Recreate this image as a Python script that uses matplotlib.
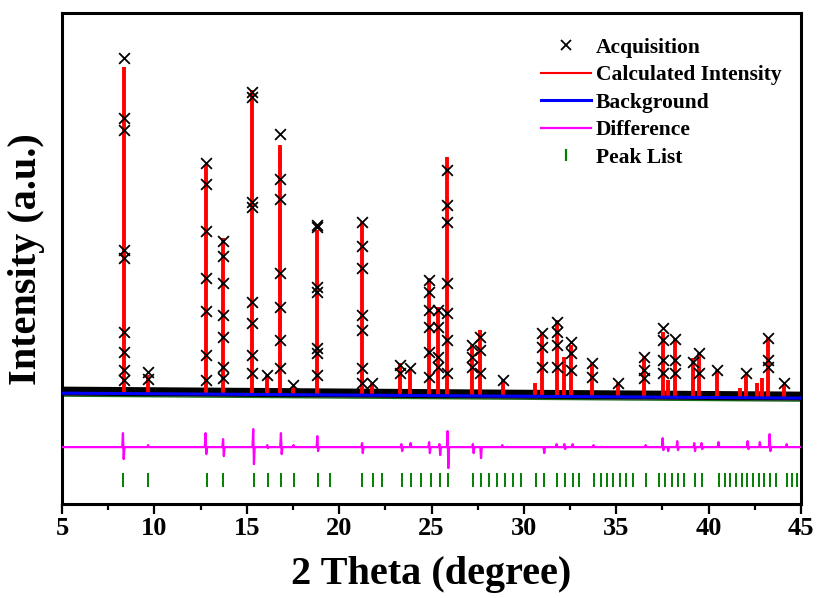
import numpy as np
import matplotlib
matplotlib.use('Agg')
import matplotlib.pyplot as plt
from matplotlib.lines import Line2D

plt.rcParams['font.family'] = ['Liberation Serif', 'DejaVu Serif']
plt.rcParams['font.weight'] = 'bold'

# calculated peaks: 2theta position, intensity at top
calc_pos = [8.37, 9.67, 12.79, 13.70, 15.30, 16.08, 16.80, 17.50, 18.79, 21.22, 21.76,
            23.30, 23.86, 24.85, 25.36, 25.86, 27.21, 27.63, 28.89, 30.60, 30.99, 31.77,
            32.17, 32.53, 33.67, 35.11, 36.52, 37.51, 37.82, 38.18, 39.17, 39.50, 40.43,
            41.70, 42.01, 42.60, 42.87, 43.23, 44.10]
calc_int = [333, 25, 235, 162, 310, 25, 255, 13, 170, 178, 17,
            37, 31, 122, 93, 243, 55, 70, 21, 17, 68, 80,
            43, 55, 37, 17, 43, 68, 20, 62, 42, 47, 30,
            12, 25, 17, 22, 63, 15]

# observed points on the peaks
obs_pos = ([8.37] * 9 + [9.67] * 2 + [12.79] * 7 + [13.70] * 7 + [15.30] * 8 + [16.08]
           + [16.80] * 7 + [17.50] + [18.79] * 7 + [21.22] * 7 + [21.76] + [23.30] * 2
           + [23.86] + [24.85] * 6 + [25.36] * 4 + [25.86] * 7 + [27.21] * 3 + [27.63] * 3
           + [28.89] + [30.99] * 3 + [31.77] * 4 + [32.53] * 3 + [33.67] * 2 + [35.11]
           + [36.52] * 3 + [37.51] * 4 + [38.18] * 3 + [39.17] + [39.50] * 2 + [40.43]
           + [42.01] + [43.23] * 3 + [44.10])
obs_int = ([342, 282, 270, 150, 142, 68, 48, 30, 20] + [28, 21]
           + [237, 216, 169, 122, 89, 45, 20] + [159, 144, 117, 85, 63, 33, 22]
           + [308, 303, 198, 193, 98, 77, 45, 27] + [25]
           + [266, 221, 201, 127, 93, 60, 32] + [15]
           + [175, 173, 113, 108, 52, 47, 25] + [178, 154, 132, 85, 70, 32, 17] + [17]
           + [35, 27] + [32] + [120, 108, 90, 73, 48, 23] + [90, 73, 43, 33]
           + [230, 195, 178, 117, 87, 60, 27] + [55, 43, 33] + [63, 50, 27] + [20]
           + [67, 53, 33] + [78, 68, 55, 33] + [58, 47, 30] + [37, 23] + [17]
           + [43, 30, 22] + [72, 60, 40, 27] + [61, 40, 27] + [38] + [47, 27] + [30]
           + [27] + [62, 40, 33] + [17])

# background (two ends)
bg_pos = [5, 45]
bg_int = [7, 2]

# difference curve spikes
diff_offset = -47
diff_pos = [8.32, 9.68, 12.79, 13.74, 15.37, 16.13, 16.87, 17.55, 18.84, 21.26, 23.39,
            23.89, 24.89, 25.45, 25.89, 27.26, 27.66, 28.85, 31.08, 31.79, 32.21, 32.66,
            33.79, 36.61, 37.53, 37.79, 38.32, 39.24, 39.63, 40.55, 42.13, 42.79, 43.32,
            44.24]
diff_up = [14, 2, 14, 8, 18, 2, 14, 2, 11, 4, 3, 4, 5, 3, 16, 3, 0, 2, 0, 3, 3, 3,
           2, 2, 9, 0, 6, 4, 4, 5, 6, 5, 13, 3]
diff_down = [12, 0, 7, 9, 17, 1, 7, 0, 4, 6, 4, 0, 6, 8, 21, 6, 11, 0, 6, 0, 2, 0,
             0, 0, 3, 4, 3, 4, 2, 0, 2, 0, 4, 0]

# peak list (bragg positions)
peak_list = [8.32, 9.68, 12.84, 13.74, 15.37, 16.13, 16.87, 17.55, 18.84, 19.50, 21.26,
             21.82, 22.34, 23.39, 23.89, 24.42, 24.95, 25.45, 25.89, 27.26, 27.66, 28.11,
             28.53, 28.97, 29.42, 29.84, 30.68, 31.08, 31.79, 32.21, 32.66, 33.00, 33.79,
             34.16, 34.50, 34.84, 35.21, 35.55, 35.89, 36.61, 37.32, 37.66, 38.00, 38.32,
             38.66, 39.24, 39.63, 40.55, 40.87, 41.16, 41.47, 41.79, 42.08, 42.39, 42.71,
             43.00, 43.32, 43.63, 44.24, 44.50, 44.76]

fig = plt.figure(figsize=(8.21, 5.98), dpi=100)
ax = fig.add_axes([0.0755, 0.157, 0.9002, 0.821])

# background level under each peak
bg_at = lambda x: np.interp(x, bg_pos, bg_int)

# baseline band of observed points
ax.plot(bg_pos, [b + 2 for b in bg_int], color='black', lw=6.5, zorder=2,
        solid_capstyle='butt')
ax.plot(bg_pos, [b - 3 for b in bg_int], color='#1a6e1a', lw=1.0, zorder=1)

# calculated intensity
ax.vlines(calc_pos, bg_at(calc_pos), calc_int, color='red', lw=2.8, zorder=3)

# observed crosses
ax.scatter(obs_pos, obs_int, marker='x', s=60, color='black', linewidths=1.3, zorder=4)

# background
ax.plot(bg_pos, bg_int, color='blue', lw=2.2, zorder=5)

# difference
dx, dy = [5.0], [diff_offset]
for p, u, d in zip(diff_pos, diff_up, diff_down):
    dx += [p - 0.06, p - 0.02, p + 0.02, p + 0.06]
    dy += [diff_offset, diff_offset + u, diff_offset - d, diff_offset]
dx.append(45.0)
dy.append(diff_offset)
ax.plot(dx, dy, color='magenta', lw=1.6, zorder=3)

# peak list ticks
ax.vlines(peak_list, -87, -73, color='green', lw=1.4, zorder=3)

ax.set_xlim(5, 45)
ax.set_ylim(-104, 387)
ax.set_xticks(np.arange(5, 46, 5))
ax.set_xticks(np.arange(7.5, 45, 5), minor=True)
ax.set_yticks([])
ax.tick_params(axis='x', which='major', length=7, width=1.6, labelsize=19, pad=2)
ax.tick_params(axis='x', which='minor', length=4, width=1.6)
for s in ax.spines.values():
    s.set_linewidth(2.2)

ax.set_xlabel('2 Theta (degree)', fontsize=29, fontweight='bold', labelpad=12)
ax.set_ylabel('Intensity (a.u.)', fontsize=29, fontweight='bold', labelpad=12)

handles = [
    Line2D([], [], ls='none', marker='x', color='black', markersize=7, mew=1.3),
    Line2D([], [], color='red', lw=1.5),
    Line2D([], [], color='blue', lw=2.2),
    Line2D([], [], color='magenta', lw=1.6),
    Line2D([], [], ls='none', marker='|', color='green', markersize=9, mew=1.6),
]
labels = ['Acquisition', 'Calculated Intensity', 'Background', 'Difference', 'Peak List']
ax.legend(handles, labels, loc='upper right', bbox_to_anchor=(1.0, 0.99),
          frameon=False, handlelength=2.3, handletextpad=0.25,
          labelspacing=0.35, prop={'weight': 'bold', 'size': 15.5})

fig.savefig('out.png', dpi=100)
